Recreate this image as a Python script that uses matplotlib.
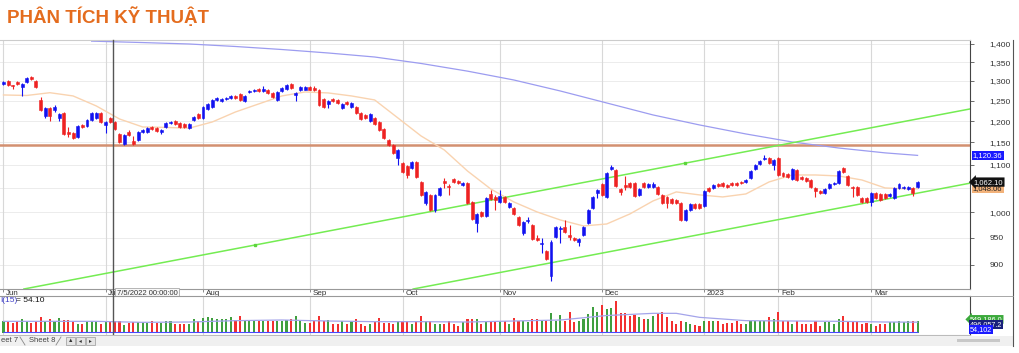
import numpy as np
import matplotlib
matplotlib.use("Agg")
import matplotlib.pyplot as plt
import matplotlib.transforms as mtransforms
from matplotlib.patches import Rectangle
from matplotlib.lines import Line2D
from matplotlib.ticker import FixedLocator, NullLocator, FuncFormatter

plt.rcParams["font.family"] = ["Liberation Sans", "DejaVu Sans"]


# 1. Data: VN-Index daily candles, 1 Jun 2022 - 15 Mar 2023

opens = [
    1292.4, 1300.1, 1289.8, 1297.5, 1284.6, 1297.5, 1310.6, 1300.1, 1251.7, 1212.3,
    1231.9, 1226.9, 1207.5, 1219.6, 1174.1, 1171.8, 1162.4, 1190.7, 1188.3, 1202.6,
    1207.5, 1219.6, 1190.7, 1207.5, 1197.8, 1169.4, 1146.3, 1174.1, 1153.1, 1155.4,
    1174.1, 1174.1, 1185.9, 1183.6, 1174.1, 1185.9, 1195.4, 1200.2, 1195.4, 1193.0,
    1183.6, 1202.6, 1217.2, 1207.5, 1229.4, 1234.3, 1251.7, 1249.2, 1254.2, 1256.7,
    1261.8, 1266.8, 1249.2, 1271.9, 1274.4, 1279.5, 1274.4, 1276.9, 1269.3, 1251.7,
    1274.4, 1279.5, 1292.4, 1264.3, 1276.9, 1278.0, 1284.6, 1282.1, 1276.9, 1254.2,
    1241.8, 1254.2, 1251.7, 1231.9, 1246.7, 1234.3, 1234.3, 1219.6, 1214.7, 1200.2,
    1207.5, 1197.8, 1181.2, 1155.4, 1144.0, 1114.6, 1103.5, 1096.9, 1092.5, 1105.7,
    1062.4, 1018.7, 1035.2, 1004.5, 1035.2, 1064.5, 1053.9, 1068.8, 1064.5, 1056.0,
    1060.3, 1020.7, 978.7, 1000.5, 992.5, 1037.2, 1031.0, 1020.7, 1031.0, 1010.6,
    1008.5, 990.6, 959.4, 982.6, 974.8, 949.8, 938.5, 925.5, 880.6, 951.7,
    967.0, 970.9, 955.5, 949.8, 942.3, 955.5, 978.7, 1008.5, 1039.3, 1058.1,
    1031.0, 1090.3, 1088.1, 1047.6, 1056.0, 1060.3, 1060.3, 1035.2, 1060.3, 1051.8,
    1051.8, 1051.8, 1035.2, 1031.0, 1026.8, 1024.8, 1018.7, 984.6, 1004.5, 1016.6,
    1016.6, 1012.6, 1049.7, 1049.7, 1058.1, 1060.3, 1056.0, 1060.3, 1060.3, 1062.4,
    1062.4, 1071.0, 1090.3, 1101.3, 1112.3, 1114.6, 1099.1, 1114.6, 1081.6, 1079.5,
    1068.8, 1088.1, 1073.0, 1070.9, 1066.6, 1049.7, 1043.4, 1039.3, 1049.7, 1058.1,
    1060.3, 1092.5, 1075.2, 1051.8, 1051.8, 1028.9, 1028.9, 1020.7, 1039.3, 1037.2,
    1037.2, 1033.1, 1028.9, 1049.7, 1049.7, 1047.6, 1049.7, 1051.8]

closes = [
    1297.5, 1289.8, 1287.2, 1292.4, 1292.4, 1308.0, 1305.3, 1284.6, 1226.9, 1231.9,
    1212.3, 1234.3, 1217.2, 1169.4, 1169.4, 1160.1, 1188.3, 1185.9, 1202.6, 1219.6,
    1219.6, 1197.8, 1197.8, 1197.8, 1181.2, 1150.8, 1167.1, 1167.1, 1146.3, 1174.1,
    1178.8, 1183.6, 1181.2, 1176.5, 1178.8, 1195.4, 1197.8, 1193.0, 1185.9, 1185.9,
    1193.0, 1209.9, 1207.5, 1234.3, 1241.8, 1251.7, 1256.7, 1254.2, 1256.7, 1261.8,
    1256.7, 1251.7, 1261.8, 1274.4, 1276.9, 1274.4, 1279.5, 1269.3, 1259.3, 1271.9,
    1282.1, 1289.8, 1282.1, 1269.3, 1284.6, 1284.6, 1278.0, 1277.0, 1239.3, 1234.3,
    1249.2, 1249.2, 1244.2, 1241.8, 1241.8, 1244.2, 1219.6, 1205.0, 1207.5, 1217.2,
    1193.0, 1178.8, 1160.1, 1144.0, 1126.0, 1132.6, 1083.8, 1077.3, 1105.7, 1073.0,
    1035.2, 1041.4, 1004.5, 1035.2, 1049.7, 1060.3, 1051.8, 1062.4, 1060.3, 1060.3,
    1018.7, 986.6, 996.5, 992.5, 1028.9, 1026.8, 1024.8, 1033.1, 1020.7, 1018.7,
    996.5, 974.8, 980.7, 984.6, 947.9, 946.0, 940.4, 910.7, 942.3, 970.9,
    969.0, 961.3, 951.7, 946.0, 947.9, 970.9, 1004.5, 1031.0, 1045.5, 1035.2,
    1081.6, 1094.7, 1054.0, 1041.4, 1051.8, 1051.8, 1033.1, 1047.6, 1051.8, 1058.1,
    1058.1, 1037.2, 1018.7, 1018.7, 1018.7, 1018.7, 984.6, 1004.5, 1016.6, 1008.5,
    1008.5, 1043.4, 1043.4, 1056.0, 1054.0, 1054.0, 1051.8, 1056.0, 1056.0, 1060.3,
    1066.6, 1085.9, 1099.1, 1107.9, 1114.6, 1103.5, 1110.1, 1077.3, 1075.2, 1073.0,
    1090.3, 1066.6, 1068.8, 1064.5, 1051.8, 1043.4, 1039.3, 1047.6, 1058.1, 1060.3,
    1085.9, 1083.8, 1056.0, 1049.7, 1035.2, 1020.7, 1020.7, 1039.3, 1028.9, 1024.8,
    1028.9, 1037.2, 1049.7, 1058.1, 1051.8, 1051.8, 1039.3, 1062.1]

highs = [
    1300, 1302, 1291, 1299, 1294, 1310, 1312, 1302, 1259.3, 1234,
    1234, 1239.3, 1219, 1222, 1185.9, 1174, 1190, 1193, 1204, 1221,
    1222, 1221, 1200, 1210, 1200, 1171, 1169, 1178.8, 1164.7, 1176,
    1181, 1186, 1188, 1185, 1180, 1197, 1200, 1202, 1197, 1195,
    1195, 1212, 1219, 1236, 1244, 1254, 1259, 1256, 1259, 1264,
    1264, 1269, 1264, 1277, 1279, 1281, 1287, 1279, 1271, 1274,
    1284, 1292, 1294, 1271, 1287, 1287, 1287, 1286, 1279, 1256,
    1251, 1257, 1254, 1244, 1249, 1246, 1237, 1222, 1217, 1219,
    1210, 1200, 1183, 1158, 1146, 1135, 1106, 1099, 1108, 1108,
    1065, 1044, 1038, 1038, 1052, 1070.9, 1058, 1071, 1067, 1063,
    1063, 1023, 999, 1003, 1031, 1045.5, 1034, 1045.5, 1033, 1021,
    1011, 993, 983, 990.6, 977, 956, 949.8, 928, 945, 973,
    973, 984.6, 975, 952, 950, 973, 1007, 1033, 1048, 1060,
    1084, 1099.1, 1090, 1049.7, 1075.2, 1062, 1062, 1050, 1062, 1060,
    1062, 1054, 1037, 1033, 1029, 1027, 1021, 1006, 1019, 1019,
    1019, 1046, 1052, 1058, 1060, 1062, 1058, 1062, 1062, 1064,
    1069, 1088, 1101, 1110, 1121.3, 1117, 1112, 1117, 1084, 1082,
    1092, 1090, 1075, 1073, 1069, 1052, 1046, 1050, 1060, 1062,
    1088, 1095, 1077, 1054, 1054, 1031, 1031, 1041, 1041, 1039,
    1039, 1039, 1052, 1060, 1054, 1054, 1052, 1064]

lows = [
    1290, 1288, 1280, 1290, 1261.8, 1295, 1303, 1283, 1224, 1208,
    1200.2, 1222, 1200.2, 1167, 1162.4, 1158, 1160, 1184, 1186, 1200,
    1205, 1196, 1171.8, 1196, 1179, 1149, 1144, 1165, 1144, 1153,
    1172, 1172, 1179, 1174, 1169.4, 1184, 1193, 1191, 1184, 1184,
    1181, 1200, 1205, 1205, 1227, 1232, 1249, 1247, 1252, 1254,
    1254, 1249, 1247, 1270, 1272, 1272, 1272, 1267, 1257, 1249,
    1272, 1277, 1280, 1249.2, 1275, 1276, 1276, 1275, 1237, 1232,
    1231.9, 1247, 1242, 1230, 1239, 1232, 1217, 1203, 1205, 1198,
    1191, 1176, 1158, 1141, 1124, 1099.1, 1081, 1070.9, 1090, 1071,
    1032, 1015, 1002, 1001, 1033, 1049.7, 1035.2, 1060, 1058, 1054,
    1016, 984, 961.3, 990, 990, 1024, 1004.5, 1018, 1018, 1008,
    994, 972, 955.5, 978.7, 945, 944, 921.8, 908, 871.5, 949,
    940.4, 959, 946, 944, 934.8, 953, 976, 1006, 1028.9, 1033,
    1028, 1088, 1051, 1035.2, 1045.5, 1049, 1030, 1033, 1049, 1049,
    1049, 1035, 1016, 1008.5, 1016, 1016, 982, 982, 1002, 1006,
    1006, 1010, 1041, 1047, 1052, 1052, 1049, 1054, 1054, 1057,
    1060, 1069, 1088, 1099, 1110.1, 1101, 1088.1, 1075, 1073, 1071,
    1066, 1064, 1066, 1062, 1049, 1031, 1037, 1037, 1047, 1056,
    1058, 1081, 1054, 1031, 1033, 1018, 1018, 1012.6, 1026, 1022,
    1026, 1031, 1026, 1047, 1047, 1045, 1033.1, 1049]

# thousand units, as in the right-hand labels
volumes = [
    534, 534, 458, 549, 626, 534, 458, 565, 717, 534,
    626, 534, 671, 595, 595, 534, 412, 412, 534, 534,
    534, 412, 534, 534, 534, 534, 381, 458, 503, 503,
    503, 458, 534, 458, 458, 565, 534, 412, 412, 412,
    412, 626, 534, 671, 717, 671, 626, 626, 626, 717,
    595, 778, 565, 565, 595, 565, 565, 565, 565, 534,
    534, 595, 626, 778, 534, 458, 458, 565, 778, 565,
    595, 412, 412, 565, 412, 565, 626, 412, 336, 412,
    503, 671, 458, 458, 412, 565, 534, 534, 412, 534,
    778, 565, 534, 412, 412, 412, 565, 412, 336, 503,
    626, 626, 626, 412, 565, 565, 565,
    534, 534, 412, 671, 534, 534, 488, 626, 626, 595,
    565, 931, 565, 824, 534, 976, 488, 534, 626, 870,
    1205, 976, 1281, 1083, 1129, 1480, 900, 900, 778, 824,
    717, 626, 626, 778, 900, 946, 717, 534, 412, 565,
    488, 412, 381, 336, 565, 534, 534, 565, 412, 458,
    458, 534, 412, 412, 565, 565, 565, 565, 748, 626,
    976, 565, 534, 412, 565, 412, 412, 412, 565, 336,
    488, 488, 412, 626, 778, 565, 488, 534, 412, 458,
    412, 336, 412, 412, 488, 488, 534, 488, 534, 565,
    549]

month_labels = ["Jun", "Jul", "Aug", "Sep", "Oct", "Nov", "Dec", "2023", "Feb", "Mar"]
month_starts = [0, 22, 43, 66, 86, 107, 129, 151, 167, 187]

# 20-day average (orange) and 200-day average (blue), read every few sessions
ma20_idx = [0, 5, 10, 15, 20, 25, 30, 35, 40, 45, 50, 55, 60, 65, 70, 75, 80, 85, 90,
            95, 100, 105, 110, 115, 120, 125, 130, 135, 140, 145, 150, 155, 160, 165,
            170, 175, 180, 185, 190, 195, 197]
ma20_val = [1264.3, 1263.0, 1270.0, 1261.8, 1236.8, 1205.0, 1185.9, 1184.8, 1183.0,
            1197.8, 1222.0, 1241.8, 1261.8, 1271.9, 1269.4, 1261.8, 1251.7, 1207.5,
            1164.7, 1132.6, 1085.9, 1047.6, 1020.7, 1000.5, 984.6, 972.9, 976.7, 996.5,
            1022.8, 1041.4, 1035.2, 1031.0, 1037.2, 1062.4, 1077.3, 1077.3, 1075.2,
            1066.6, 1049.7, 1047.6, 1048.06]
ma200_idx = [19, 30, 40, 50, 60, 70, 80, 90, 100, 110, 120, 130, 140, 150, 160, 170,
             180, 190, 197]
ma200_val = [1408.0, 1404.0, 1400.0, 1393.0, 1384.6, 1375.0, 1364.0, 1346.5, 1326.0,
             1302.7, 1274.4, 1244.2, 1214.7, 1190.7, 1169.4, 1150.8, 1137.0, 1126.0,
             1120.36]

vol_ma_idx = [0, 10, 20, 30, 40, 50, 60, 70, 80, 90, 100, 110, 120, 130, 140, 145,
              150, 160, 170, 180, 190, 197]
vol_ma_val = [534, 534, 534, 488, 503, 565, 595, 549, 519, 519, 503, 549, 595, 800,
              900, 900, 717, 565, 549, 534, 503, 496]
ind_level = 54.102

# trend channel and resistance
trend_up_x = [4.4, 208.3]
trend_up_y = [857.6, 1229.4]
trend_lo_x = [88.3, 208.3]
trend_lo_y = [857.6, 1059.8]
anchor_x = [54.2, 146.9]
anchor_y = [936.6, 1103.5]
resist_level = 1143.9

price_ticks = [900, 950, 1000, 1100, 1150, 1200, 1250, 1300, 1350, 1400]
grid_levels = [900, 950, 1000, 1050, 1100, 1150, 1200, 1250, 1300, 1350, 1400]
cursor_idx = 23.7


# 2. Figure layout (pixel based)

W, H = 1020, 353
fig = plt.figure(figsize=(W / 100, H / 100), dpi=100)


def fx(px):
    return px / W


def fy(py):
    return 1 - py / H


ax = fig.add_axes([0, fy(289), fx(970), fy(40) - fy(289)])
axv = fig.add_axes([0, fy(335), fx(970), fy(296) - fy(335)])

n = len(closes)
x = np.arange(n)
o = np.array(opens)
c = np.array(closes)
up = c >= o
candle_col = np.where(up, "#1212f0", "#ee2222")
vol_col = np.where(up, "#3f9f3f", "#f23030")


# 3. Price panel

ax.set_yscale("log")
ax.set_xlim(-0.75, 208.3)
ax.set_ylim(857.6, 1411.2)

for lvl in grid_levels:
    ax.axhline(lvl, color="#ececec", lw=0.7, zorder=0)
for m in month_starts:
    ax.axvline(m, color="#d8d8d8", lw=0.8, zorder=0)
    axv.axvline(m, color="#d8d8d8", lw=0.8, zorder=0)

ax.axhline(resist_level, color="#d39070", lw=1.8, zorder=1)
ax.plot(ma200_idx, ma200_val, color="#9c9cf0", lw=0.9, zorder=1)
ax.plot(ma20_idx, ma20_val, color="#f9d3b0", lw=1.0, zorder=1)
ax.plot(trend_up_x, trend_up_y, color="#74ec52", lw=1.1, zorder=2)
ax.plot(trend_lo_x, trend_lo_y, color="#74ec52", lw=1.1, zorder=2)
ax.plot(anchor_x, anchor_y, "s", ms=2, color="#5cd43c", zorder=2)

ax.vlines(x, lows, highs, colors=candle_col, lw=0.8, zorder=3)
ax.bar(x, np.abs(c - o), bottom=np.minimum(o, c), width=0.64,
       color=candle_col, edgecolor=candle_col, lw=0.4, zorder=4)

ax.yaxis.tick_right()
ax.yaxis.set_major_locator(FixedLocator(price_ticks))
ax.yaxis.set_minor_locator(NullLocator())
ax.yaxis.set_major_formatter(FuncFormatter(lambda v, _: f"{v:,.0f}"))
ax.tick_params(axis="y", length=3, width=0.6, color="#555555",
               labelsize=6, labelcolor="#333333", pad=11)
ax.set_xticks(month_starts)
ax.tick_params(axis="x", length=2.5, width=0.6, color="#777777", labelbottom=False)

ax.spines["left"].set_visible(False)
ax.spines["top"].set_color("#cccccc")
ax.spines["bottom"].set_color("#999999")
ax.spines["right"].set_color("#444444")

tr = mtransforms.blended_transform_factory(ax.transData, ax.transAxes)
for m, lab in zip(month_starts, month_labels):
    ax.text(m + 0.6, -0.017, lab, transform=tr, fontsize=5.8, ha="left",
            va="center", color="#333333", clip_on=False)

# crosshair with date tooltip
ax.axvline(cursor_idx, ymin=-0.04, color="#555555", lw=1.0, zorder=5, clip_on=False)
axv.axvline(cursor_idx, color="#555555", lw=1.0, zorder=5)
ax.text(cursor_idx + 0.7, -0.017, "7/5/2022 00:00:00", transform=tr, fontsize=5.5,
        ha="left", va="center", color="#333333", zorder=10, clip_on=False,
        bbox=dict(boxstyle="square,pad=0.25", fc="#f8f8f8", ec="#aaaaaa", lw=0.6))

# value boxes on the price axis
ty = mtransforms.blended_transform_factory(ax.transAxes, ax.transData)
ax.text(1.003, ma200_val[-1], f"{ma200_val[-1]:,.2f}", transform=ty, fontsize=5.5,
        color="white", ha="left", va="center", clip_on=False, zorder=6,
        bbox=dict(boxstyle="square,pad=0.15", fc="#1a1aff", ec="none"))
ax.text(1.004, closes[-1], f"{closes[-1]:,.2f}", transform=ty, fontsize=5.5,
        color="white", ha="left", va="center", clip_on=False, zorder=7,
        bbox=dict(boxstyle="larrow,pad=0.15", fc="#111111", ec="none"))
ax.text(1.003, ma20_val[-1], f"{ma20_val[-1]:,.2f}", transform=ty, fontsize=5.5,
        color="#222222", ha="left", va="center", clip_on=False, zorder=6,
        bbox=dict(boxstyle="square,pad=0.15", fc="#f2b27a", ec="none"))


# 4. Volume panel

axv.set_xlim(ax.get_xlim())
axv.set_ylim(-91.5, 1693.3)
axv.bar(x, volumes, width=0.45, color=vol_col, zorder=3)
axv.plot(vol_ma_idx, vol_ma_val, color="#a4a4ea", lw=0.9, zorder=4)
axv.hlines(ind_level, 0, n - 1, color="#4a4aff", lw=0.8, zorder=4)
axv.set_xticks([])
axv.set_yticks([])
axv.spines["left"].set_visible(False)
axv.spines["top"].set_color("#999999")
axv.spines["bottom"].set_color("#bbbbbb")
axv.spines["right"].set_color("#444444")

axv.text(0.0, 0.88, "I(15)", transform=axv.transAxes, fontsize=6, color="#3c3cc8",
         ha="left", va="center")
axv.text(0.016, 0.88, "= 54.10", transform=axv.transAxes, fontsize=6, color="#111111",
         ha="left", va="center")

vlabels = [("549,186.0", 0.40, "#3caa3c", "larrow,pad=0.12"),
           ("496,057.2", 0.27, "#18207a", "square,pad=0.12"),
           ("54,102", 0.14, "#1a1aff", "square,pad=0.12")]
for txt, yy, fc, bs in vlabels:
    axv.text(1.0, yy, txt, transform=axv.transAxes, fontsize=5.2, color="white",
             ha="left", va="center", clip_on=False, zorder=6,
             bbox=dict(boxstyle=bs, fc=fc, ec="none"))


# 5. Title and window chrome

fig.text(fx(7), fy(17), "PHÂN TÍCH KỸ THUẬT", fontsize=13.5, fontweight="bold",
         color="#e46c1e", ha="left", va="center")

fig.patches.append(Rectangle((0, fy(346)), fx(1013), (346 - 336) / H,
                             transform=fig.transFigure, fc="#f0f0f0", ec="none"))
fig.text(fx(1), fy(341), "eet 7", fontsize=5.5, color="#444444", va="center")
fig.text(fx(29), fy(341), "Sheet 8", fontsize=5.5, color="#444444", va="center")
fig.lines.append(Line2D([fx(20), fx(25)], [fy(337), fy(345)], transform=fig.transFigure,
                        color="#888888", lw=0.6))
fig.lines.append(Line2D([fx(56), fx(61)], [fy(345), fy(337)], transform=fig.transFigure,
                        color="#888888", lw=0.6))
for bx, glyph in [(66, "▲"), (76, "◂"), (86, "▸")]:
    fig.patches.append(Rectangle((fx(bx), fy(345)), fx(9), 8 / H, transform=fig.transFigure,
                                 fc="#e4e4e4", ec="#999999", lw=0.5))
    fig.text(fx(bx + 4.5), fy(341), glyph, fontsize=4, color="#333333",
             ha="center", va="center")
fig.patches.append(Rectangle((fx(957), fy(342)), fx(43), 3 / H, transform=fig.transFigure,
                             fc="#c8c8c8", ec="none"))
fig.lines.append(Line2D([fx(1013), fx(1013)], [fy(346), fy(40)], transform=fig.transFigure,
                        color="#555555", lw=0.8))
fig.lines.append(Line2D([fx(970), fx(1013)], [fy(296), fy(296)], transform=fig.transFigure,
                        color="#999999", lw=0.6))

fig.savefig("out.png", dpi=100)
